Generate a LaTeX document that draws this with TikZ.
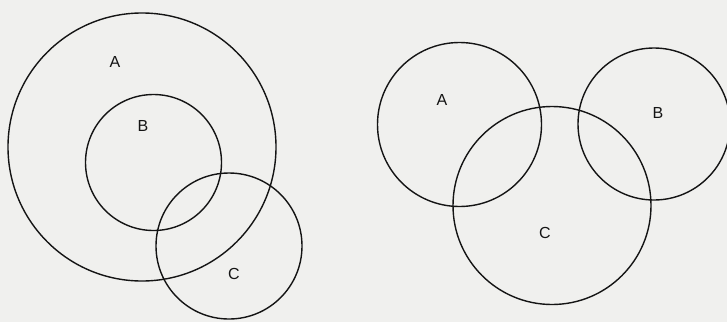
\documentclass[tikz,border=0pt]{standalone}
\usepackage{fontspec}
\setmainfont{Liberation Sans}
\definecolor{paper}{RGB}{240,240,238}
\definecolor{ink}{RGB}{20,20,20}
\begin{document}
\begin{tikzpicture}[x=1pt,y=-1pt,
  setcircle/.style={circle,draw=ink,line width=1.4pt,inner sep=0pt,minimum size=#1},
  setlabel/.style={font=\fontsize{16}{18}\selectfont,text=ink}]
\fill[paper] (0,0) rectangle (727,322);
\useasboundingbox (0,0) rectangle (727,322);
% left diagram
\node[setcircle=268pt] (LA) at (142,147) {};
\node[setcircle=136pt] (LB) at (153.5,162.5) {};
\node[setcircle=146pt] (LC) at (229,246) {};
\node[setlabel] (lA) at (115,62) {A};
\node[setlabel] (lB) at (143,126) {B};
\node[setlabel] (lC) at (234,274) {C};
% right diagram
\node[setcircle=164pt] (RA) at (459.5,124.5) {};
\node[setcircle=152pt] (RB) at (654,124) {};
\node[setcircle=198pt] (RC) at (552,205.5) {};
\node[setlabel] (rA) at (442,100) {A};
\node[setlabel] (rB) at (658,113) {B};
\node[setlabel] (rC) at (545,233) {C};
\end{tikzpicture}
\end{document}
